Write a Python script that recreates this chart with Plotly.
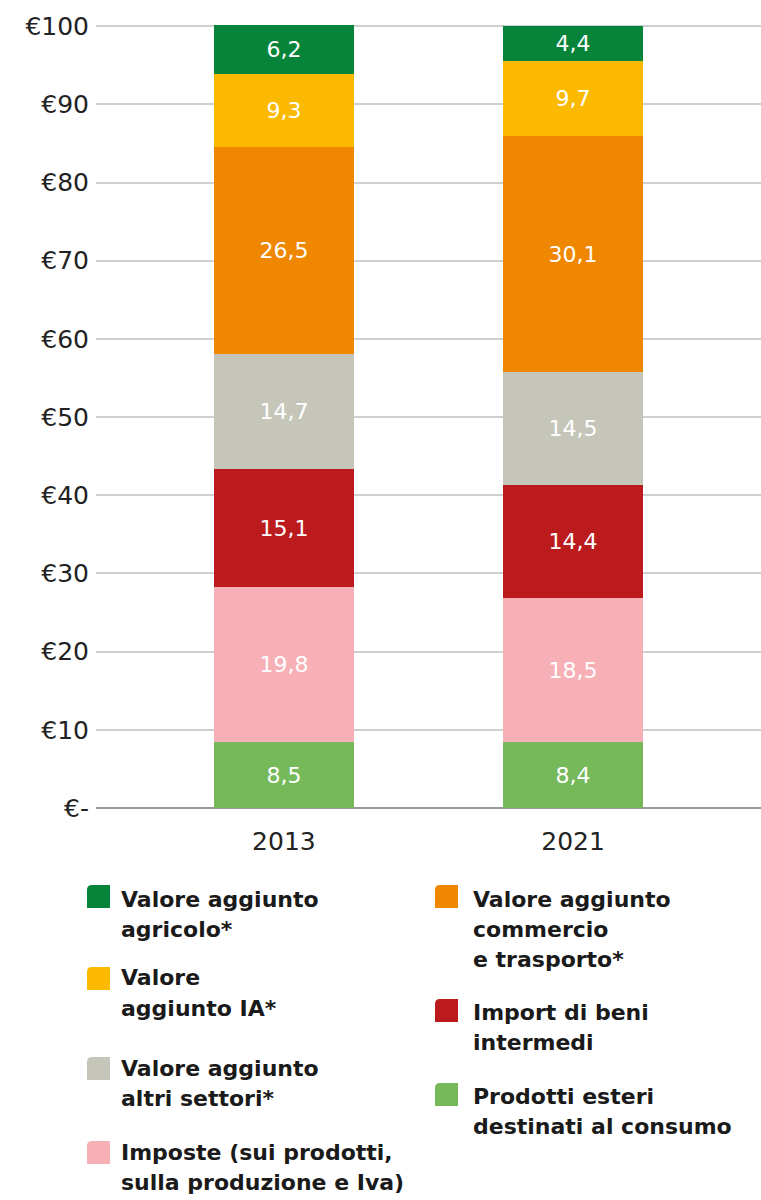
import plotly.graph_objects as go

years = ["2013", "2021"]
series = [
    "Prodotti esteri destinati al consumo",
    "Imposte (sui prodotti, sulla produzione e Iva)",
    "Import di beni intermedi",
    "Valore aggiunto altri settori*",
    "Valore aggiunto commercio e trasporto*",
    "Valore aggiunto IA*",
    "Valore aggiunto agricolo*",
]
prodotti_esteri = [8.5, 8.4]
imposte = [19.8, 18.5]
import_beni = [15.1, 14.4]
altri_settori = [14.7, 14.5]
commercio = [26.5, 30.1]
ia = [9.3, 9.7]
agricolo = [6.2, 4.4]
values = [prodotti_esteri, imposte, import_beni, altri_settori, commercio, ia, agricolo]
colors = ["#75B95B", "#F6B0B6", "#BC1B1E", "#C5C5B9", "#F08700", "#FBBA00", "#05843A"]

ytick_vals = [0, 10, 20, 30, 40, 50, 60, 70, 80, 90, 100]
ytick_text = ["€-", "€10", "€20", "€30", "€40", "€50", "€60", "€70", "€80", "€90", "€100"]

# legend: (series index, label lines, column, first line center y, square top, square bottom) in page px
legend_items = [
    (6, ["Valore aggiunto", "agricolo*"], 0, 899, 885, 908),
    (5, ["Valore", "aggiunto IA*"], 0, 978, 967, 990),
    (3, ["Valore aggiunto", "altri settori*"], 0, 1068, 1057, 1080),
    (1, ["Imposte (sui prodotti,", "sulla produzione e Iva)"], 0, 1152, 1141, 1164),
    (4, ["Valore aggiunto", "commercio", "e trasporto*"], 1, 899, 885, 908),
    (2, ["Import di beni", "intermedi"], 1, 1012, 999, 1022),
    (0, ["Prodotti esteri", "destinati al consumo"], 1, 1096, 1083, 1106),
]
LINE_H = 30

W, H = 761, 1200
PLOT_L, PLOT_T, PLOT_B = 96, 25, 808  # page px
L, R, T = PLOT_L, 0, PLOT_T
B = H - PLOT_B
PW, PH = W - L - R, H - T - B


def px_x(x):
    return (x - L) / PW


def px_y(y):
    return (H - B - y) / PH


FONT = "DejaVu Sans"

fig = go.Figure()
for name, vals, col in zip(series, values, colors):
    fig.add_trace(go.Bar(
        x=years, y=vals, name=name, marker=dict(color=col, line=dict(width=0)),
        width=0.484,
        text=[f"{v:.1f}".replace(".", ",") for v in vals],
        textposition="inside", insidetextanchor="middle", textangle=0,
        textfont=dict(color="white", size=22, family=FONT),
        constraintext="none", showlegend=False, hoverinfo="skip",
    ))

shapes = []
annotations = []
col_sq_x = [87, 435]
col_tx_x = [121, 473]
SQ = 23
RAD = 5
for idx, lines, c, ty, st, sb in legend_items:
    x0, x1 = col_sq_x[c], col_sq_x[c] + SQ
    path = (
        f"M {px_x(x0)},{px_y(sb)} L {px_x(x0)},{px_y(st + RAD)} "
        f"Q {px_x(x0)},{px_y(st)} {px_x(x0 + RAD)},{px_y(st)} "
        f"L {px_x(x1)},{px_y(st)} L {px_x(x1)},{px_y(sb)} Z"
    )
    shapes.append(dict(type="path", xref="paper", yref="paper", path=path,
                       fillcolor=colors[idx], line=dict(width=0)))
    for k, line in enumerate(lines):
        annotations.append(dict(
            xref="paper", yref="paper", x=px_x(col_tx_x[c]), y=px_y(ty + k * LINE_H),
            xanchor="left", yanchor="middle", align="left", showarrow=False,
            text=line, xshift=-2,
            font=dict(family=FONT, size=22, color="#1a1a1a", weight="bold"),
        ))

fig.update_layout(
    width=W, height=H,
    margin=dict(l=L, r=R, t=T, b=B),
    barmode="stack", bargap=0,
    plot_bgcolor="white", paper_bgcolor="white",
    shapes=shapes, annotations=annotations,
    xaxis=dict(
        type="category", range=[-0.65, 1.65], showgrid=False, zeroline=False,
        showline=False, ticks="", ticklabelstandoff=16,
        tickfont=dict(family=FONT, size=25, color="#222222"),
    ),
    yaxis=dict(
        range=[0, 100.15], tickvals=ytick_vals, ticktext=ytick_text,
        showgrid=True, gridcolor="#cfcfcf", gridwidth=2,
        zeroline=True, zerolinecolor="#999999", zerolinewidth=2,
        showline=False, ticks="", ticklabelstandoff=6,
        tickfont=dict(family=FONT, size=25, color="#222222"),
    ),
)

fig.write_html(
    "out.html",
    config={"displayModeBar": False},
    post_script="document.body.style.margin='0';document.body.style.overflow='hidden';",
)
